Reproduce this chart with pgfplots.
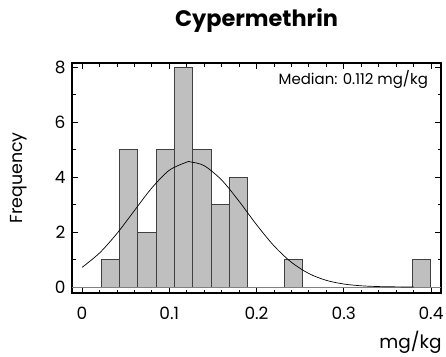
\documentclass[border=0pt]{standalone}
\usepackage{fontspec}
\setmainfont{Poppins}
\usepackage{pgfplots}
\pgfplotsset{compat=1.18}
\begin{document}
\begin{tikzpicture}[x=1bp,y=1bp]
\path[use as bounding box] (-72,-63) rectangle (374,293);
\begin{axis}[
  at={(0,0)}, anchor=south west,
  scale only axis, width=369bp, height=230bp,
  xmin=-0.0115, xmax=0.4115, ymin=-0.218, ymax=8.145,
  axis line style={line width=1.1pt},
  tick style={black, line width=0.8pt},
  tick align=inside,
  xtick={0,0.1,0.2,0.3,0.4},
  minor x tick num=4,
  ytick={0,2,4,6,8},
  minor y tick num=1,
  major tick length=6bp, minor tick length=3.5bp,
  xticklabel style={font=\fontsize{17}{19}\selectfont, anchor=base, yshift=-26bp},
  yticklabel style={font=\fontsize{17}{19}\selectfont, xshift=-3bp},
  /pgf/number format/assume math mode=true,
  xticklabel={\pgfmathprintnumber[fixed,precision=1]{\tick}},
  scaled x ticks=false,
  title={\bfseries Cypermethrin},
  title style={font=\fontsize{22.5}{25}\selectfont, at={(axis description cs:0.5,1)}, anchor=base, yshift=31bp},
  xlabel={mg/kg},
  xlabel style={font=\fontsize{18.5}{21}\selectfont, at={(axis description cs:1,0)}, anchor=base east, yshift=-55bp, xshift=4bp},
  ylabel={Frequency},
  ylabel style={font=\fontsize{17.5}{20}\selectfont, at={(axis description cs:-0.145,0.5)}, anchor=center},
  clip=false,
]
\addplot[ybar interval, fill=black!25, draw=black!75, line width=0.8pt] coordinates {
(0.0218,1) (0.0428,5) (0.0638,2) (0.0848,5) (0.1058,8) (0.1268,5) (0.1478,3) (0.1688,4)
(0.1898,0) (0.2108,0) (0.2318,1) (0.2528,0) (0.2738,0) (0.2948,0) (0.3158,0) (0.3368,0) (0.3578,0) (0.3788,1) (0.3998,1)
};
\draw[black!50, line width=0.8pt] (axis cs:-0.0115,0) -- (axis cs:0.4115,0);
\addplot[black, line width=0.7pt, smooth, no marks] coordinates {
(0,0.713) (0.02,1.235) (0.04,1.944) (0.06,2.777) (0.08,3.603) (0.10,4.245) (0.12,4.541) (0.124,4.55)
(0.14,4.412) (0.16,3.892) (0.18,3.118) (0.20,2.268) (0.22,1.498) (0.24,0.899) (0.26,0.490)
(0.28,0.242) (0.30,0.109) (0.32,0.044) (0.34,0.016) (0.36,0.0055) (0.38,0.0017)
};
\node[anchor=base east, font=\fontsize{15}{17}\selectfont] at (rel axis cs:0.974,0.906) {Median: 0.112 mg/kg};
\end{axis}
\end{tikzpicture}
\end{document}
